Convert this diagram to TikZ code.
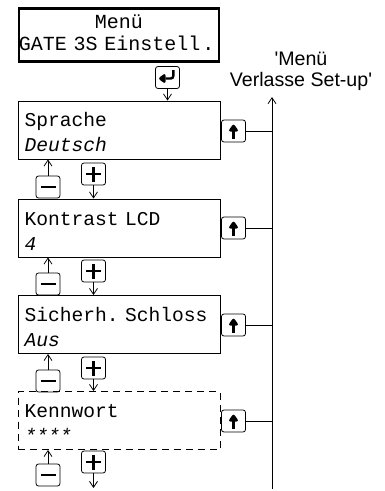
\documentclass[tikz,border=0pt]{standalone}
\usepackage{fontspec}
\setmonofont{Liberation Mono}
\setsansfont{Liberation Sans}
\usepackage{tikz}
\usetikzlibrary{arrows.meta}

\newcommand{\lcdfont}{\fontsize{19.6}{25}\selectfont\ttfamily\frenchspacing}

\tikzset{
  >={Straight Barb[length=6pt,width=8pt]},
  menubox/.style={draw, line width=0.8pt, minimum width=202pt, minimum height=58pt,
    text width=189pt, inner xsep=6.5pt, text height=19pt, font=\lcdfont},
  key/.style={draw, line width=0.8pt, rounded corners=2.5pt, minimum width=24pt,
    minimum height=22pt, inner sep=0pt},
  minuskey/.style={key, path picture={
    \draw[shift={(path picture bounding box.center)}, line width=2.4pt] (-7.5pt,0pt) -- (7.5pt,0pt);}},
  pluskey/.style={key, path picture={
    \draw[shift={(path picture bounding box.center)}, line width=2.4pt]
      (-7.5pt,0pt) -- (7.5pt,0pt) (0pt,-7.5pt) -- (0pt,7.5pt);}},
  upkey/.style={key, path picture={
    \draw[shift={(path picture bounding box.center)}, line width=2.4pt] (0pt,-8pt) -- (0pt,0pt);
    \fill[shift={(path picture bounding box.center)}] (0pt,7.5pt) -- (-5.5pt,-0.5pt) -- (5.5pt,-0.5pt) -- cycle;}},
  enterkey/.style={key, path picture={
    \draw[shift={(path picture bounding box.center)}, line width=2.4pt] (5.8pt,7.5pt) -- (5.8pt,-1pt) -- (-2pt,-1pt);
    \fill[shift={(path picture bounding box.center)}] (-9.5pt,-1pt) -- (-2pt,4.5pt) -- (-2pt,-6.5pt) -- cycle;}}
}

\begin{document}
\begin{tikzpicture}[x=1pt,y=-1pt,line width=0.8pt]
  \useasboundingbox (0,0) rectangle (384,491);

  \node[draw, line width=2.4pt, minimum width=200pt, minimum height=53pt, inner sep=0pt,
    text width=200pt, text height=9pt, font=\fontsize{20}{21.5}\selectfont\ttfamily]
    (title) at (119,35) {\centering Menü\\GATE 3S Einstell\rlap{\hspace{2pt}.}};
  \node[enterkey] (enter) at (167.5,77.5) {};

  \node[menubox] (sprache) at (119,130) {Sprache\\\textit{Deutsch}};
  \node[menubox] (kontrast) at (119,228) {Kontrast LCD\\\textit{4}};
  \node[menubox] (schloss) at (119,324.5) {Sicherh. Schloss\\\textit{Aus}};
  \node[menubox, dash pattern=on 7pt off 5pt] (kennwort) at (119,420.5) {Kennwort\\\textit{****}};

  \node[upkey] (up1) at (233.5,131) {};
  \node[upkey] (up2) at (233.5,228) {};
  \node[upkey] (up3) at (233.5,325) {};
  \node[upkey] (up4) at (233.5,421) {};

  \node[minuskey] (minus1) at (48,187) {};
  \node[minuskey] (minus2) at (48,284) {};
  \node[minuskey] (minus3) at (48,381) {};
  \node[minuskey] (minus4) at (48,475) {};
  \node[pluskey] (plus1) at (93.5,174) {};
  \node[pluskey] (plus2) at (93.5,271) {};
  \node[pluskey] (plus3) at (93.5,368) {};
  \node[pluskey] (plus4) at (93.5,462) {};

  \node[font=\fontsize{19.6}{21}\selectfont\sffamily, align=center, text height=30pt, text depth=5pt]
    (exitlbl) at (301,74) {\textquotesingle Menü\\Verlasse Set-up\textquotesingle};
  \coordinate (exittop) at (272,97);
  \coordinate (exitbot) at (272,489);
  \coordinate (plusend) at (93.5,488);

  \draw[->] (enter.south) -- (enter.south |- sprache.north);
  \draw[->] (exitbot) -- (exittop);
  \draw (up1.east) -- (up1.east -| exittop);
  \draw (up2.east) -- (up2.east -| exittop);
  \draw (up3.east) -- (up3.east -| exittop);
  \draw (up4.east) -- (up4.east -| exittop);

  \draw[->] (minus1.north) -- (minus1.north |- sprache.south);
  \draw[->] (minus2.north) -- (minus2.north |- kontrast.south);
  \draw[->] (minus3.north) -- (minus3.north |- schloss.south);
  \draw[->] (minus4.north) -- (minus4.north |- kennwort.south);
  \draw[->] (plus1.south) -- (plus1.south |- kontrast.north);
  \draw[->] (plus2.south) -- (plus2.south |- schloss.north);
  \draw[->] (plus3.south) -- (plus3.south |- kennwort.north);
  \draw[->] (plus4.south) -- (plusend);
\end{tikzpicture}
\end{document}
